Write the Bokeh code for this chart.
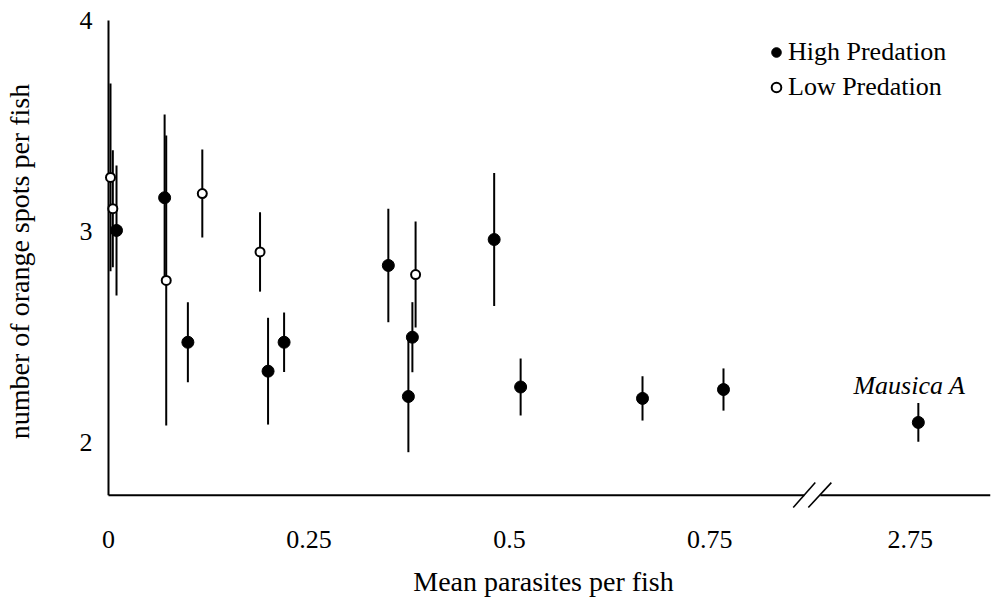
from bokeh.plotting import figure
from bokeh.models import FixedTicker, Legend, LegendItem, Range1d
from bokeh.embed import file_html
from bokeh.resources import INLINE
from bokeh.core.properties import value

# ---------------- data ----------------
high_x = [0.010, 0.070, 0.099, 0.199, 0.219, 0.349, 0.379, 0.374, 0.481, 0.514, 0.666, 0.767, 2.76]
high_y = [3.005, 3.160, 2.475, 2.338, 2.475, 2.839, 2.499, 2.218, 2.962, 2.263, 2.209, 2.251, 2.095]
high_err = [0.308, 0.395, 0.190, 0.253, 0.141, 0.269, 0.166, 0.264, 0.315, 0.135, 0.105, 0.100, 0.092]

low_x = [0.0025, 0.0054, 0.072, 0.117, 0.189, 0.383]
low_y = [3.256, 3.108, 2.768, 3.180, 2.903, 2.796]
low_err = [0.445, 0.277, 0.687, 0.209, 0.188, 0.251]

x_ticks = [0, 0.25, 0.5, 0.75, 2.75]
y_ticks = [2, 3, 4]
outlier_label = "Mausica A"
series_names = ["High Predation", "Low Predation"]

# ---------------- broken x scale ----------------
BREAK_FROM = 1.0      # display position where the real value 2.75 sits
BREAK_SHIFT = 1.75    # values above 1 are shifted left by this amount
X_MIN, X_MAX = 0.0, 1.1
Y_MIN, Y_MAX = 1.75, 4.0


def disp(v):
    return v if v <= BREAK_FROM else v - BREAK_SHIFT


FONT = "Liberation Serif"

p = figure(width=1005, height=601, output_backend="svg", toolbar_location=None,
           x_range=Range1d(-0.01496, X_MAX), y_range=Range1d(1.6777, 4.0379),
           min_border_left=96, min_border_right=15, min_border_top=12, min_border_bottom=91)
p.outline_line_color = None
p.xgrid.visible = False
p.ygrid.visible = False
p.background_fill_color = "white"
p.border_fill_color = "white"

# axes: labels via Bokeh axes, axis lines drawn separately (to allow the break)
p.xaxis.ticker = FixedTicker(ticks=[disp(t) for t in x_ticks])
p.xaxis.major_label_overrides = {disp(t): f"{t:g}" for t in x_ticks}
p.yaxis.ticker = FixedTicker(ticks=y_ticks)
p.yaxis.major_label_overrides = {t: f"{t:g}" for t in y_ticks}
for ax in (p.xaxis[0], p.yaxis[0]):
    ax.axis_line_color = None
    ax.major_tick_line_color = None
    ax.minor_tick_line_color = None
    ax.major_tick_in = 0
    ax.major_tick_out = 0
    ax.major_label_text_font = FONT
    ax.major_label_text_font_size = "26px"
    ax.major_label_text_color = "black"
    ax.axis_label_text_font = FONT
    ax.axis_label_text_font_size = "28px"
    ax.axis_label_text_font_style = "normal"
    ax.axis_label_text_color = "black"
p.xaxis.axis_label = "Mean parasites per fish"
p.yaxis.axis_label = "number of orange spots per fish"
p.xaxis.major_label_standoff = 20
p.xaxis.axis_label_standoff = 15
p.yaxis.major_label_standoff = 4
p.yaxis.axis_label_standoff = 42

# axis lines
gap_l, gap_r = 0.8678, 0.8878
p.segment(x0=[0], y0=[Y_MIN], x1=[0], y1=[Y_MAX], line_color="black", line_width=2)
p.segment(x0=[X_MIN, gap_r], y0=[Y_MIN, Y_MIN], x1=[gap_l, X_MAX], y1=[Y_MIN, Y_MIN],
          line_color="black", line_width=2)
# break slashes
p.segment(x0=[0.854, 0.8728], y0=[1.692, 1.692], x1=[0.8815, 0.9015], y1=[1.810, 1.810],
          line_color="black", line_width=1.6)

# error bars
hx = [disp(v) for v in high_x]
lx = [disp(v) for v in low_x]
p.segment(x0=hx, x1=hx, y0=[y - e for y, e in zip(high_y, high_err)],
          y1=[y + e for y, e in zip(high_y, high_err)], line_color="black", line_width=2)
p.segment(x0=lx, x1=lx, y0=[y - e for y, e in zip(low_y, low_err)],
          y1=[y + e for y, e in zip(low_y, low_err)], line_color="black", line_width=2)

# markers
r_hi = p.scatter(hx, high_y, size=12, marker="circle", fill_color="black", line_color="black")
r_lo = p.scatter(lx, low_y, size=9, marker="circle", fill_color="white", line_color="black",
                 line_width=2)

# outlier label
p.text(x=[hx[-1]], y=[high_y[-1]], text=[outlier_label], x_offset=-9, y_offset=-37,
       text_align="center", text_baseline="middle", text_font=value(FONT),
       text_font_style="italic", text_font_size="26px", text_color="black")

# legend
legend = Legend(items=[LegendItem(label=series_names[0], renderers=[r_hi]),
                       LegendItem(label=series_names[1], renderers=[r_lo])],
                location=(668, 408), padding=0, margin=0, spacing=5,
                glyph_width=24, glyph_height=30, label_height=30, label_standoff=0,
                border_line_color=None, background_fill_alpha=0,
                label_text_font=FONT, label_text_font_size="26px", label_text_color="black")
p.add_layout(legend)

open("out.html", "w").write(file_html(p, INLINE))
